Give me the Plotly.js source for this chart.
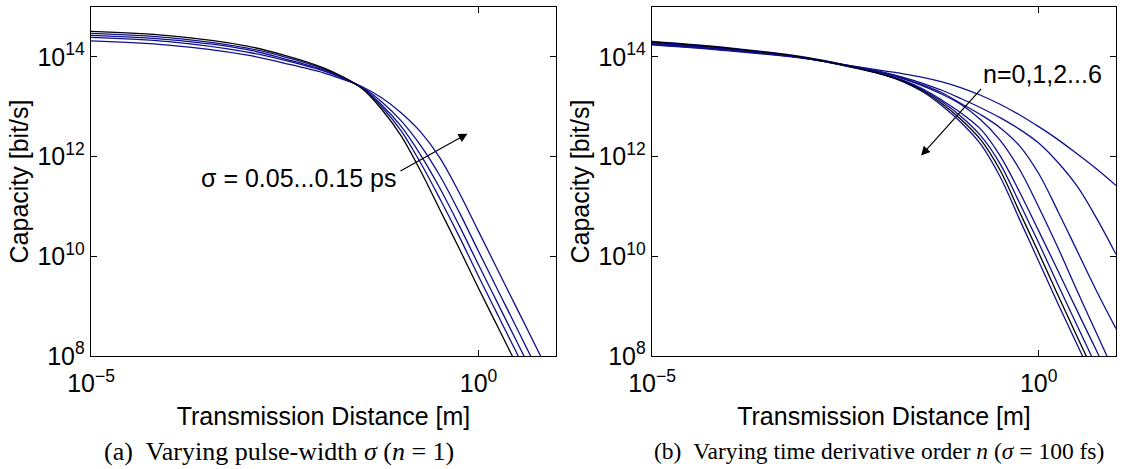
<!DOCTYPE html>
<html>
<head>
<meta charset="utf-8">
<script src="https://cdn.plot.ly/plotly-3.0.1.min.js"></script>
<style>html,body{margin:0;padding:0;background:#fff}#chart{width:1126px;height:469px}</style>
</head>
<body>
<div id="chart"></div>
<script>
// Transmission distance [m]
const distance = [1e-5, 1e-4, 1e-3, 3.162e-3, 1e-2, 1.778e-2, 3.162e-2, 5.623e-2, 0.1, 0.1778, 0.3162, 0.5623, 1, 1.778, 3.162, 5.623, 10];

// Tick values / labels
const xTickVals = [1e-5, 1];
const xTickText = ['10<sup>\u22125</sup>', '10<sup>0</sup>'];
const yTickVals = [1e8, 1e10, 1e12, 1e14];
const yTickText = ['10<sup>8</sup>', '10<sup>10</sup>', '10<sup>12</sup>', '10<sup>14</sup>'];

// (a) Capacity [bit/s] for pulse-width sigma = 0.05 ... 0.15 ps (n = 1)
const sigmaLabels = ['0.05 ps', '0.075 ps', '0.1 ps', '0.125 ps', '0.15 ps'];
const capSigma005 = [3.236e14, 2.661e14, 1.660e14, 1.072e14, 6.026e13, 3.981e13, 2.291e13, 8.913e12, 2.630e12, 5.248e11, 8.710e10, 1.445e10, 2.291e9, 3.802e8, 6.310e7, 1.047e7, 1.738e6];
const capSigma0075 = [2.951e14, 2.427e14, 1.514e14, 1.000e14, 5.754e13, 3.890e13, 2.344e13, 1.000e13, 3.311e12, 7.586e11, 1.445e11, 2.512e10, 3.981e9, 6.607e8, 1.096e8, 1.820e7, 3.020e6];
const capSigma010 = [2.692e14, 2.213e14, 1.413e14, 9.120e13, 5.495e13, 3.802e13, 2.399e13, 1.096e13, 4.074e12, 1.096e12, 2.344e11, 4.169e10, 6.761e9, 1.122e9, 1.862e8, 3.090e7, 5.129e6];
const capSigma0125 = [2.455e14, 2.018e14, 1.259e14, 8.511e13, 5.248e13, 3.715e13, 2.455e13, 1.259e13, 5.248e12, 1.698e12, 4.169e11, 7.762e10, 1.259e10, 2.089e9, 3.467e8, 5.754e7, 9.550e6];
const capSigma015 = [2.089e14, 1.718e14, 1.096e14, 7.413e13, 4.786e13, 3.548e13, 2.512e13, 1.514e13, 7.586e12, 3.162e12, 9.550e11, 1.905e11, 3.162e10, 5.248e9, 8.710e8, 1.445e8, 2.399e7];

// (b) Capacity [bit/s] for time-derivative orders (sigma = 100 fs), left-most to right-most curve
const orderLabels = ['curve 1', 'curve 2', 'curve 3', 'curve 4', 'curve 5', 'curve 6', 'curve 7', 'curve 8'];
const capOrder1 = [2.042e14, 1.514e14, 9.772e13, 6.918e13, 4.365e13, 3.162e13, 1.995e13, 1.047e13, 4.786e12, 1.778e12, 3.981e11, 5.623e10, 7.943e9, 1.122e9, 1.660e8, 2.512e7, 3.981e6];
const capOrder2 = [1.995e14, 1.479e14, 9.550e13, 6.761e13, 4.365e13, 3.236e13, 2.089e13, 1.148e13, 5.495e12, 2.188e12, 5.370e11, 7.943e10, 1.175e10, 1.660e9, 2.399e8, 3.548e7, 5.248e6];
const capOrder3 = [1.950e14, 1.445e14, 9.333e13, 6.607e13, 4.365e13, 3.311e13, 2.188e13, 1.259e13, 6.310e12, 2.630e12, 7.244e11, 1.202e11, 1.862e10, 2.692e9, 3.981e8, 6.026e7, 8.913e6];
const capOrder4 = [1.905e14, 1.413e14, 9.333e13, 6.607e13, 4.467e13, 3.388e13, 2.291e13, 1.349e13, 7.413e12, 3.548e12, 1.047e12, 1.995e11, 3.236e10, 5.129e9, 7.943e8, 1.259e8, 1.995e7];
const capOrder5 = [1.862e14, 1.413e14, 9.333e13, 6.761e13, 4.677e13, 3.631e13, 2.630e13, 1.778e13, 1.096e13, 5.495e12, 2.138e12, 5.623e11, 9.772e10, 1.479e10, 1.995e9, 2.818e8, 3.981e7];
const capOrder6 = [1.820e14, 1.380e14, 9.333e13, 6.761e13, 4.786e13, 3.715e13, 2.754e13, 1.905e13, 1.148e13, 6.918e12, 3.802e12, 1.660e12, 4.571e11, 7.943e10, 1.259e10, 1.995e9, 3.548e8];
const capOrder7 = [1.778e14, 1.349e14, 9.333e13, 6.918e13, 4.898e13, 3.890e13, 2.951e13, 2.138e13, 1.445e13, 9.550e12, 6.026e12, 3.548e12, 1.862e12, 7.586e11, 2.512e11, 5.754e10, 1.096e10];
const capOrder8 = [1.738e14, 1.318e14, 9.120e13, 6.918e13, 5.248e13, 4.571e13, 3.890e13, 3.162e13, 2.399e13, 1.698e13, 1.122e13, 6.918e12, 3.981e12, 2.188e12, 1.122e12, 5.623e11, 2.630e11];

const BLUE = 'rgb(16,16,140)';
const BLACK = '#000000';
const sansFont = 'Liberation Sans, Arial, Helvetica, sans-serif';
const serifFont = 'Liberation Serif, Times New Roman, serif';

const sigmaSeries = [capSigma005, capSigma0075, capSigma010, capSigma0125, capSigma015];
const sigmaColors = [BLACK, BLUE, BLUE, BLUE, BLUE];
const orderSeries = [capOrder1, capOrder2, capOrder3, capOrder4, capOrder5, capOrder6, capOrder7, capOrder8];
const orderColors = [BLUE, BLACK, BLUE, BLUE, BLUE, BLUE, BLUE, BLUE];

const traces = [];
[1,2,3,4,0].forEach(i => traces.push({
  x: distance, y: sigmaSeries[i], name: sigmaLabels[i], type: 'scatter', mode: 'lines',
  line: {color: sigmaColors[i], width: 1.3, shape: 'spline', smoothing: 1},
  xaxis: 'x', yaxis: 'y', showlegend: false, hoverinfo: 'skip'
}));
[0,2,3,4,5,6,7,1].forEach(i => traces.push({
  x: distance, y: orderSeries[i], name: orderLabels[i], type: 'scatter', mode: 'lines',
  line: {color: orderColors[i], width: 1.3, shape: 'spline', smoothing: 1},
  xaxis: 'x2', yaxis: 'y2', showlegend: false, hoverinfo: 'skip'
}));

const W = 1126, H = 469;
const px = v => v / W;
const py = v => 1 - v / H;
const tickFont = {family: sansFont, size: 25, color: '#000'};
const titleFont = {family: sansFont, size: 25, color: '#000'};

function xAxis(domain, anchor) {
  return {
    type: 'log', range: [-5, 1], domain: domain, anchor: anchor,
    tickmode: 'array', tickvals: xTickVals, ticktext: xTickText,
    ticks: 'inside', ticklen: 6, tickwidth: 1, tickcolor: '#000', ticklabelstandoff: 5,
    showline: true, linecolor: '#000', linewidth: 1.3, mirror: 'ticks',
    showgrid: false, zeroline: false, tickfont: tickFont,
    title: {text: 'Transmission Distance [m]', font: titleFont, standoff: 11}
  };
}
function yAxis(domain, anchor) {
  return {
    type: 'log', range: [8, 15], domain: domain, anchor: anchor,
    tickmode: 'array', tickvals: yTickVals, ticktext: yTickText,
    ticks: 'inside', ticklen: 6, tickwidth: 1, tickcolor: '#000',
    showline: true, linecolor: '#000', linewidth: 1.3, mirror: 'ticks',
    showgrid: false, zeroline: false, tickfont: tickFont,
    title: {text: 'Capacity [bit/s]', font: titleFont, standoff: 1}
  };
}

const yDom = [py(356), py(7)];
const layout = {
  width: W, height: H,
  margin: {l: 0, r: 0, t: 0, b: 0},
  paper_bgcolor: '#fff', plot_bgcolor: '#fff',
  showlegend: false,
  xaxis: xAxis([px(91), px(556)], 'y'),
  yaxis: yAxis(yDom, 'x'),
  xaxis2: xAxis([px(652), px(1116)], 'y2'),
  yaxis2: yAxis(yDom, 'x2'),
  annotations: [
    {xref: 'x', yref: 'y', x: -2.326, y: 11.58, text: 'σ = 0.05...0.15 ps', showarrow: false, font: titleFont},
    {xref: 'x', yref: 'y', x: -0.142, y: 12.46, ax: -70, ay: 39, text: ' ', showarrow: true,
     arrowhead: 2, arrowsize: 1.5, arrowwidth: 1.2, arrowcolor: '#000'},
    {xref: 'x2', yref: 'y2', x: 0.052, y: 13.65, text: 'n=0,1,2...6', showarrow: false, font: titleFont},
    {xref: 'x2', yref: 'y2', x: -1.52, y: 12.02, ax: 63, ay: -70, text: ' ', showarrow: true,
     arrowhead: 2, arrowsize: 1.5, arrowwidth: 1.2, arrowcolor: '#000'},
    {xref: 'paper', yref: 'paper', x: px(279), y: py(451), xanchor: 'center', yanchor: 'middle', showarrow: false,
     text: '(a)\u00a0\u00a0Varying pulse-width <i>σ</i> (<i>n</i> = 1)',
     font: {family: serifFont, size: 26, color: '#000'}},
    {xref: 'paper', yref: 'paper', x: px(879), y: py(451), xanchor: 'center', yanchor: 'middle', showarrow: false,
     text: '(b)\u00a0\u00a0Varying time derivative order <i>n</i> (<i>σ</i> = 100 fs)',
     font: {family: serifFont, size: 23.5, color: '#000'}}
  ]
};

Plotly.newPlot('chart', traces, layout, {staticPlot: true, displayModeBar: false});
</script>
</body>
</html>
